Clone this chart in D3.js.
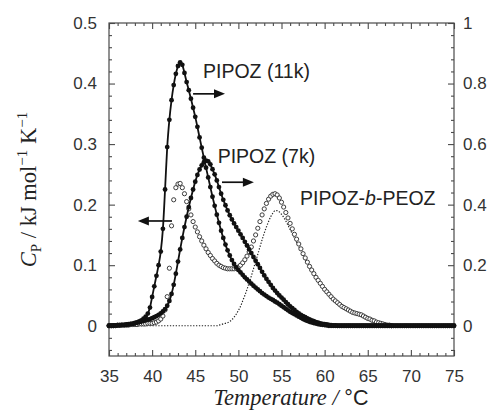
<!DOCTYPE html>
<html><head><meta charset="utf-8">
<script src="https://cdn.jsdelivr.net/npm/d3@7"></script>
<style>body{margin:0;background:#fff}svg{display:block}</style>
</head><body><svg id="c" width="492" height="415"></svg>
<script>
// ---------------- data ----------------
// temperature grid: start 35 °C, step 0.25 °C
const tStart = 35, tStep = 0.25;
// PIPOZ (11k) — right axis
const pipoz11k = [
0,0,0.001,0.001,0.002,0.002,0.003,0.003,
0.004,0.005,0.006,0.007,0.009,0.011,0.014,0.018,
0.023,0.030,0.040,0.060,0.095,0.130,0.165,0.200,
0.245,0.320,0.450,0.590,0.680,0.745,0.795,0.832,
0.858,0.870,0.862,0.835,0.805,0.778,0.750,0.720,
0.690,0.657,0.622,0.588,0.555,0.522,0.490,0.458,
0.426,0.396,0.367,0.340,0.314,0.290,0.268,0.249,
0.232,0.217,0.204,0.193,0.184,0.176,0.168,0.160,
0.153,0.146,0.139,0.132,0.126,0.120,0.114,0.108,
0.103,0.098,0.093,0.089,0.085,0.080,0.076,0.071,
0.066,0.061,0.056,0.051,0.046,0.042,0.038,0.034,
0.030,0.026,0.022,0.019,0.016,0.013,0.011,0.009,
0.007,0.005,0.004,0.003,0.002,0.001,0,0,
0,0,0,0,0,0,0,0,
0,0,0,0,0,0,0,0,
0,0,0,0,0,0,0,0,
0,0,0,0,0,0,0,0,
0,0,0,0,0,0,0,0,
0,0,0,0,0,0,0,0,
0,0,0,0,0,0,0,0,
0];
// PIPOZ (7k) — right axis
const pipoz7k = [
0,0,0,0.001,0.001,0.001,0.002,0.002,
0.003,0.004,0.005,0.006,0.008,0.010,0.012,0.014,
0.016,0.018,0.020,0.022,0.025,0.028,0.032,0.036,
0.041,0.047,0.055,0.066,0.082,0.105,0.135,0.172,
0.212,0.252,0.290,0.326,0.360,0.392,0.422,0.450,
0.476,0.498,0.516,0.530,0.540,0.545,0.543,0.533,
0.517,0.500,0.480,0.458,0.436,0.416,0.398,0.381,
0.365,0.351,0.338,0.326,0.314,0.302,0.290,0.277,
0.265,0.252,0.240,0.227,0.215,0.203,0.191,0.178,
0.166,0.155,0.145,0.135,0.125,0.116,0.108,0.100,
0.093,0.086,0.078,0.071,0.064,0.058,0.052,0.046,
0.041,0.036,0.032,0.028,0.024,0.021,0.018,0.015,
0.012,0.010,0.008,0.006,0.005,0.004,0.003,0.002,
0.001,0.001,0,0,0,0,0,0,
0,0,0,0,0,0,0,0,
0,0,0,0,0,0,0,0,
0,0,0,0,0,0,0,0,
0,0,0,0,0,0,0,0,
0,0,0,0,0,0,0,0,
0,0,0,0,0,0,0,0,
0];
// PIPOZ-b-PEOZ — left axis (open circles)
const blockCp = [
0,0,0,0,0.001,0.001,0.001,0.001,
0.001,0.001,0.002,0.002,0.002,0.002,0.003,0.003,
0.003,0.003,0.004,0.004,0.004,0.005,0.006,0.008,
0.011,0.016,0.026,0.048,0.095,0.165,0.208,0.228,
0.234,0.235,0.228,0.218,0.205,0.193,0.183,0.172,
0.163,0.155,0.147,0.140,0.133,0.127,0.121,0.116,
0.111,0.107,0.103,0.100,0.098,0.096,0.095,0.094,
0.094,0.094,0.094,0.095,0.097,0.100,0.104,0.109,
0.115,0.122,0.130,0.140,0.150,0.161,0.172,0.183,
0.193,0.202,0.209,0.214,0.217,0.218,0.216,0.211,
0.204,0.196,0.187,0.178,0.169,0.160,0.151,0.143,
0.135,0.127,0.119,0.112,0.105,0.098,0.092,0.086,
0.080,0.075,0.070,0.065,0.060,0.056,0.052,0.048,
0.044,0.041,0.038,0.035,0.032,0.030,0.028,0.026,
0.024,0.022,0.021,0.020,0.019,0.018,0.016,0.014,
0.012,0.011,0.009,0.008,0.006,0.005,0.004,0.003,
0.002,0.001,0.001,0];
// PEOZ-block component — left axis (dotted)
const blockComp = [
0,0,0,0,0,0,0,0,
0,0,0,0,0,0,0,0,
0,0,0,0,0,0,0,0,
0,0,0,0,0,0,0,0,
0,0,0,0,0,0,0,0,
0,0,0,0,0,0,0,0,
0,0,0,0.001,0.002,0.003,0.004,0.005,
0.007,0.010,0.014,0.019,0.025,0.032,0.041,0.050,
0.060,0.071,0.082,0.094,0.106,0.118,0.130,0.142,
0.153,0.163,0.172,0.180,0.186,0.190,0.190,0.188,
0.184,0.179,0.173,0.166,0.159,0.152,0.145,0.138,
0.131,0.124,0.117,0.110,0.104,0.098,0.092,0.086,
0.080,0.075,0.070,0.065];
const xTicks = [35,40,45,50,55,60,65,70,75];
const yLeftTicks = [0,0.1,0.2,0.3,0.4,0.5];
const yRightTicks = [0,0.2,0.4,0.6,0.8,1];
const labels = ["PIPOZ (11k)","PIPOZ (7k)","PIPOZ-b-PEOZ"];

// ---------------- layout ----------------
const svg = d3.select("#c");
const L = 109, R = 454, T = 23, B = 356;
const x = d3.scaleLinear().domain([35,75]).range([L,R]);
const yL = d3.scaleLinear().domain([-0.05,0.5]).range([B,T]);
const yR = d3.scaleLinear().domain([-0.1,1]).range([B,T]);
const toPts = (arr) => arr.map((v,i)=>({t: tStart + i*tStep, v}));

const sans = "'Liberation Sans', Arial, sans-serif";
const serif = "'Liberation Serif', 'Times New Roman', serif";
const axisCol = "#4a4a4a";

function styleAxis(g){
  g.select(".domain").remove();
  g.selectAll("line").attr("stroke", axisCol).attr("stroke-width",1.1);
  g.selectAll("text").attr("font-family", sans).attr("font-size", 17).attr("fill","#333");
}
const minorX = d3.range(35,76).filter(d=>d%5!==0);
const minorYL = d3.range(-2,26).filter(i=>i%5!==0).map(i=>i*0.02);
const minorYR = d3.range(-2,26).filter(i=>i%5!==0).map(i=>i*0.04);

// bottom
svg.append("g").attr("transform",`translate(0,${B})`)
  .call(d3.axisBottom(x).tickValues(xTicks).tickSize(-6).tickPadding(14).tickFormat(d3.format("d"))).call(styleAxis);
svg.append("g").attr("transform",`translate(0,${B})`)
  .call(d3.axisBottom(x).tickValues(minorX).tickSize(-3).tickFormat("")).call(styleAxis);
// top
svg.append("g").attr("transform",`translate(0,${T})`)
  .call(d3.axisTop(x).tickValues(xTicks).tickSize(-6).tickFormat("")).call(styleAxis);
svg.append("g").attr("transform",`translate(0,${T})`)
  .call(d3.axisTop(x).tickValues(minorX).tickSize(-3).tickFormat("")).call(styleAxis);
// left
svg.append("g").attr("transform",`translate(${L},0)`)
  .call(d3.axisLeft(yL).tickValues(yLeftTicks).tickSize(-6).tickPadding(12).tickFormat(d3.format(""))).call(styleAxis);
svg.append("g").attr("transform",`translate(${L},0)`)
  .call(d3.axisLeft(yL).tickValues(minorYL).tickSize(-3).tickFormat("")).call(styleAxis);
// right
svg.append("g").attr("transform",`translate(${R},0)`)
  .call(d3.axisRight(yR).tickValues(yRightTicks).tickSize(-6).tickPadding(9).tickFormat(d3.format(""))).call(styleAxis);
svg.append("g").attr("transform",`translate(${R},0)`)
  .call(d3.axisRight(yR).tickValues(minorYR).tickSize(-3).tickFormat("")).call(styleAxis);
// frame
svg.append("rect").attr("x",L).attr("y",T).attr("width",R-L).attr("height",B-T)
  .attr("fill","none").attr("stroke",axisCol).attr("stroke-width",1.2);

// ---------------- curves ----------------
const dComp = toPts(blockComp);
svg.append("path").datum(dComp)
  .attr("d", d3.line().x(d=>x(d.t)).y(d=>yL(d.v)).curve(d3.curveMonotoneX))
  .attr("fill","none").attr("stroke","#222").attr("stroke-width",1.2).attr("stroke-dasharray","1.3,1.6");

const dBlock = toPts(blockCp);
svg.append("g").selectAll("circle").data(dBlock).join("circle")
  .attr("cx",d=>x(d.t)).attr("cy",d=>yL(d.v)).attr("r",2.1)
  .attr("fill","#fff").attr("stroke","#333").attr("stroke-width",0.95);

[pipoz7k, pipoz11k].forEach(arr=>{
  const pts = toPts(arr);
  svg.append("path").datum(pts)
    .attr("d", d3.line().x(d=>x(d.t)).y(d=>yR(d.v)).curve(d3.curveMonotoneX))
    .attr("fill","none").attr("stroke","#111").attr("stroke-width",1.8);
  svg.append("g").selectAll("circle").data(pts).join("circle")
    .attr("cx",d=>x(d.t)).attr("cy",d=>yR(d.v)).attr("r",2.4).attr("fill","#111");
});

// ---------------- annotations ----------------
function arrow(t1, t2, v){
  const x1 = x(t1), x2 = x(t2), yy = yL(v);
  const dir = Math.sign(x2-x1), hl = 11, hw = 4.5;
  svg.append("line").attr("x1",x1).attr("y1",yy).attr("x2",x2-dir*hl*0.8).attr("y2",yy)
    .attr("stroke","#111").attr("stroke-width",1.7);
  svg.append("path").attr("d",`M${x2},${yy}L${x2-dir*hl},${yy-hw}L${x2-dir*hl},${yy+hw}Z`).attr("fill","#111");
}
arrow(44.75, 48.45, 0.383);
arrow(48.1, 51.8, 0.237);
arrow(42.3, 38.35, 0.173);

svg.append("text").attr("x",x(45.9)).attr("y",yL(0.409)).attr("font-family",sans).attr("font-size",19.5).attr("fill","#222").text(labels[0]);
svg.append("text").attr("x",x(47.6)).attr("y",yL(0.269)).attr("font-family",sans).attr("font-size",19.5).attr("fill","#222").text(labels[1]);
const tb = svg.append("text").attr("x",x(57.15)).attr("y",yL(0.199)).attr("font-family",sans).attr("font-size",19.5).attr("fill","#222");
tb.append("tspan").text("PIPOZ-");
tb.append("tspan").attr("font-style","italic").text("b");
tb.append("tspan").text("-PEOZ");

// axis titles
const xt = svg.append("text").attr("x",291).attr("y",405).attr("text-anchor","middle")
  .attr("font-family",serif).attr("font-size",22.5).attr("fill","#222");
xt.append("tspan").attr("font-style","italic").text("Temperature / ");
xt.append("tspan").attr("font-family",sans).attr("font-size",21.5).text("°C");

const yt = svg.append("text").attr("transform","translate(36,189.5) rotate(-90)").attr("text-anchor","middle")
  .attr("font-family",serif).attr("font-size",22.5).attr("fill","#222");
yt.append("tspan").attr("font-style","italic").text("C");
yt.append("tspan").attr("font-size",15).attr("dy",5).text("P");
yt.append("tspan").attr("dy",-5).text(" / kJ mol");
yt.append("tspan").attr("font-size",15).attr("dy",-9).text("−1");
yt.append("tspan").attr("dy",9).text(" K");
yt.append("tspan").attr("font-size",15).attr("dy",-9).text("−1");
</script>
</body></html>
